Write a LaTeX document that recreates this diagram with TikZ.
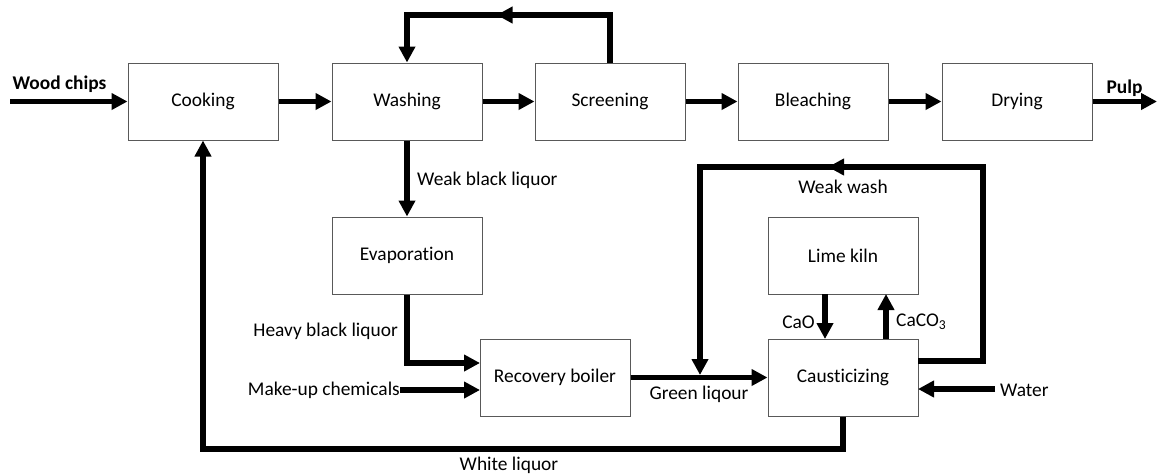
\documentclass[tikz,border=0pt]{standalone}
\usepackage{fontspec}
\setmainfont{Carlito}[Ligatures=NoCommon]
\usetikzlibrary{arrows.meta,decorations.markings}
\newcommand\diagfont{\fontsize{19.4}{23}\selectfont}
\begin{document}
\begin{tikzpicture}[x=1pt,y=-1pt,
  proc/.style={draw=black!65,line width=1pt,minimum width=150pt,minimum height=77pt,inner sep=0pt,font=\diagfont},
  lbl/.style={font=\diagfont,inner sep=0pt},
  flow/.style={line width=5.3pt,line join=miter,-{Triangle[length=16pt,width=16pt]}},
  midarrow/.style={postaction={decorate},decoration={markings,mark=at position #1 with {\arrow{Triangle[length=16pt,width=16pt]}}}}]
\useasboundingbox (0,0) rectangle (1157,475);

% process boxes
\node[proc] (cook)  at (203,101.5) {Cooking};
\node[proc] (wash)  at (407,101.5) {Washing};
\node[proc] (scr)   at (610,101.5) {Screening};
\node[proc] (bleach) at (813,101.5) {Bleaching};
\node[proc] (dry)   at (1017,101.5) {Drying};
\node[proc] (evap)  at (407,255.5) {Evaporation};
\node[proc] (rb)    at (555,377.5) {Recovery boiler};
\node[proc] (lime)  at (843,255.5) {Lime kiln};
\node[proc] (caus)  at (843,377.5) {Causticizing};

% free ends
\coordinate (wcin) at (10,101.5);
\coordinate (pulpout) at (1157,101.5);
\coordinate (topL) at (610,15);
\coordinate (hblc) at (407,363);
\coordinate (rbin1) at (480,363);
\coordinate (rbin2) at (480,390);
\coordinate (wwstart) at (918,361);
\coordinate (wwR) at (983,361);
\coordinate (wwTR) at (983,167);
\coordinate (wwTL) at (700,167);
\coordinate (wwend) at (700,375);
\coordinate (waterin) at (995,389);
\coordinate (causw) at (918,389);
\coordinate (caoT) at (825,294);
\coordinate (caoB) at (825,339);
\coordinate (cacoB) at (886,339);
\coordinate (cacoT) at (886,294);
\coordinate (wlB) at (843,449);

% labels
\node[lbl,font=\diagfont\bfseries] (lwc) at (59.5,84) {Wood chips};
\node[lbl,font=\diagfont\bfseries] (lpulp) at (1124.5,88) {Pulp};
\node[lbl,anchor=west] (lwbl) at (417,180) {Weak black liquor};
\node[lbl,anchor=east] (lhbl) at (398,331) {Heavy black liquor};
\node[lbl,anchor=east] (lmu) at (400,390) {Make-up chemicals};
\node[lbl] (lgl) at (699,394) {Green liqour};
\node[lbl] (lww) at (843,187) {Weak wash};
\node[lbl,anchor=east] (lcao) at (815,322) {CaO};
\node[lbl,anchor=west] (lcaco) at (896,322) {CaCO\textsubscript{3}};
\node[lbl,anchor=west] (lwater) at (1000,390) {Water};
\node[lbl] (lwl) at (509,465) {White liquor};

% main line
\draw[flow] (wcin) -- (cook.west);
\draw[flow] (cook) -- (wash);
\draw[flow] (wash) -- (scr);
\draw[flow] (scr) -- (bleach);
\draw[flow] (bleach) -- (dry);
\draw[flow] (dry.east) -- (pulpout);

% screening reject loop
\draw[flow,midarrow=0.54] (scr.north) -- (topL) -| (wash.north);

% liquor lines
\draw[flow] (wash.south) -- (evap.north);
\draw[flow] (evap.south) -- (hblc) -- (rbin1);
\draw[flow] (lmu.east) -- (rbin2);
\draw[flow] (rb.east) -- (caus.west);
\draw[flow,midarrow=0.552] (wwstart) -- (wwR) -- (wwTR) -- (wwTL) -- (wwend);
\draw[flow] (waterin) -- (causw);
\draw[flow] (caoT) -- (caoB);
\draw[flow] (cacoB) -- (cacoT);
\draw[flow] (caus.south) -- (wlB) -| (cook.south);
\end{tikzpicture}
\end{document}
